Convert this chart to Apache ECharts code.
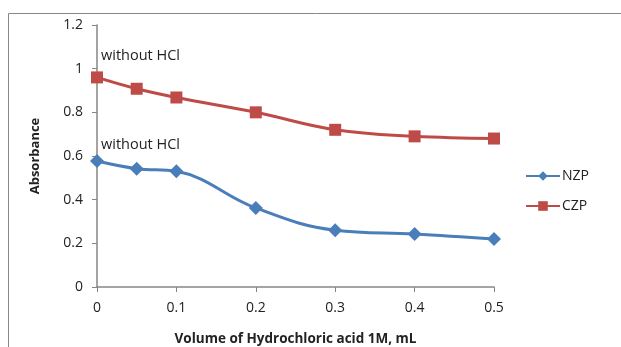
<!DOCTYPE html>
<html><head><meta charset="utf-8">
<script src="https://cdn.jsdelivr.net/npm/echarts@6/dist/echarts.min.js"></script>
<style>html,body{margin:0;padding:0;background:#fff}#c{width:621px;height:347px}</style>
</head><body><div id="c"></div>
<script>
const xValues = [0, 0.05, 0.1, 0.2, 0.3, 0.4, 0.5];
const nzp = [0.577, 0.542, 0.53, 0.362, 0.26, 0.243, 0.22];
const czp = [0.96, 0.908, 0.868, 0.8, 0.72, 0.69, 0.68];
const annotation = 'without HCl';
const font = 'Open Sans';

function pairs(vals, dy){
  return vals.map((v,i)=>{
    const d = {value:[xValues[i], v]};
    if(i===0){
      d.label = {show:true, formatter:annotation, position:'top', distance:5, align:'left', offset:[4,dy], color:'#222', fontSize:14.5, fontFamily:font};
    }
    return d;
  });
}

const chart = echarts.init(document.getElementById('c'));
chart.setOption({
  animation:false,
  backgroundColor:'#fff',
  textStyle:{fontFamily:font},
  grid:{left:97, right:127, top:25, bottom:60, containLabel:false, outerBoundsMode:'none'},
  graphic:[{type:'rect', shape:{x:8.5, y:13.5, width:800, height:500}, style:{fill:'none', stroke:'#888', lineWidth:1}, silent:true, z:-1}],
  legend:{
    orient:'vertical', left:520, top:164, itemGap:16, itemWidth:34, itemHeight:12,
    textStyle:{fontSize:14, color:'#222', fontFamily:font, padding:[0,0,0,-3]},
    data:['NZP','CZP']
  },
  xAxis:{
    type:'value', min:0, max:0.5, interval:0.1,
    name:'Volume of Hydrochloric acid 1M, mL', nameLocation:'middle', nameGap:45,
    nameTextStyle:{fontWeight:'bold', fontSize:13.5, color:'#222', fontFamily:font},
    axisLine:{lineStyle:{color:'#868686', width:1.5}},
    axisTick:{show:true, length:5, lineStyle:{color:'#868686'}},
    axisLabel:{fontSize:14, color:'#222', margin:14, fontFamily:font},
    splitLine:{show:false}
  },
  yAxis:{
    type:'value', min:0, max:1.2, interval:0.2,
    name:'Absorbance', nameLocation:'middle', nameGap:55,
    nameTextStyle:{fontWeight:'bold', fontSize:13, color:'#222', fontFamily:font},
    axisLine:{show:true, lineStyle:{color:'#868686', width:1.5}},
    axisTick:{show:true, length:5, lineStyle:{color:'#868686'}},
    axisLabel:{fontSize:14, color:'#222', margin:14, fontFamily:font, formatter:v=>String(+v.toFixed(1))},
    splitLine:{show:false}
  },
  series:[
    {name:'NZP', type:'line', smooth:0.4, data:pairs(nzp, 3), symbol:'diamond', symbolSize:14,
     lineStyle:{color:'#4A7EBB', width:3}, itemStyle:{color:'#4A7EBB'}},
    {name:'CZP', type:'line', smooth:0.4, data:pairs(czp, -3), symbol:'rect', symbolSize:12,
     lineStyle:{color:'#BE4B48', width:3}, itemStyle:{color:'#BE4B48'}}
  ]
});
</script></body></html>
